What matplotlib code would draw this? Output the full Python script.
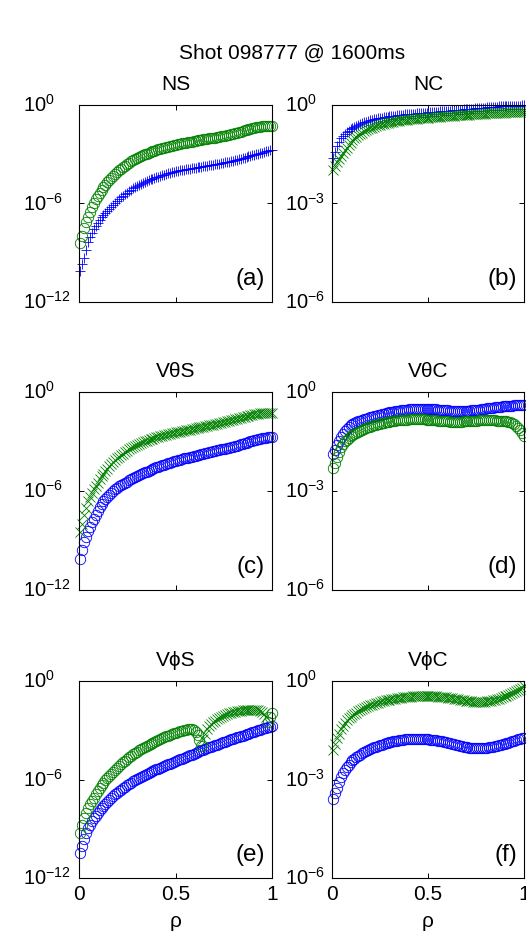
import numpy as np
import matplotlib
matplotlib.use("Agg")
import matplotlib.pyplot as plt
from matplotlib.transforms import ScaledTranslation, blended_transform_factory

plt.rcParams['font.family'] = ['Liberation Sans', 'DejaVu Sans']
plt.rcParams['mathtext.fontset'] = 'custom'
plt.rcParams['mathtext.rm'] = 'Liberation Sans'
plt.rcParams['mathtext.it'] = 'Liberation Sans:italic'
plt.rcParams['mathtext.bf'] = 'Liberation Sans:bold'
plt.rcParams['mathtext.default'] = 'regular'

# ---------------- data ----------------
suptitle = "Shot 098777 @ 1600ms"
titles = ["NS", "NC", "V\u03b8S", "V\u03b8C", "V\u03d5S", "V\u03d5C"]
panel_labels = ["(a)", "(b)", "(c)", "(d)", "(e)", "(f)"]
rho_first, rho_last = 0.005, 1.0
xticks = [0, 0.5, 1]
xticklabels = ["0", "0.5", "1"]
yticks_left = [-12, -6, 0]
yticks_right = [-6, -3, 0]
xlabel = "\u03c1"

# log10 of the plotted values, on a uniform rho grid
ns_blue = [-10.1, -9.7, -9.3, -8.82, -8.35, -8.07, -7.8, -7.57, -7.35, -7.17,
           -7.0, -6.85, -6.7, -6.57, -6.45, -6.32, -6.2, -6.07, -5.95, -5.83,
           -5.72, -5.62, -5.52, -5.42, -5.33, -5.24, -5.16, -5.08, -5.0, -4.93,
           -4.86, -4.8, -4.74, -4.68, -4.63, -4.58, -4.53, -4.48, -4.44, -4.4,
           -4.36, -4.32, -4.28, -4.24, -4.21, -4.17, -4.14, -4.1, -4.07, -4.04,
           -4.01, -3.98, -3.96, -3.93, -3.91, -3.89, -3.87, -3.85, -3.83, -3.81,
           -3.79, -3.77, -3.75, -3.73, -3.71, -3.69, -3.67, -3.65, -3.63, -3.61,
           -3.59, -3.57, -3.55, -3.52, -3.5, -3.47, -3.45, -3.42, -3.39, -3.36,
           -3.33, -3.3, -3.27, -3.23, -3.2, -3.16, -3.13, -3.1, -3.06, -3.03,
           -3.0, -2.97, -2.94, -2.9, -2.86, -2.83, -2.8, -2.77, -2.74]
ns_green = [-8.4, -7.95, -7.5, -7.15, -6.8, -6.5, -6.2, -5.97, -5.75, -5.55,
            -5.35, -5.17, -5.0, -4.86, -4.72, -4.58, -4.45, -4.32, -4.2, -4.09,
            -3.98, -3.88, -3.78, -3.69, -3.6, -3.52, -3.44, -3.37, -3.3, -3.23,
            -3.17, -3.11, -3.06, -3.01, -2.96, -2.91, -2.87, -2.82, -2.78, -2.74,
            -2.7, -2.66, -2.63, -2.59, -2.56, -2.53, -2.5, -2.47, -2.44, -2.41,
            -2.39, -2.36, -2.34, -2.31, -2.29, -2.27, -2.25, -2.23, -2.21, -2.18,
            -2.16, -2.14, -2.12, -2.1, -2.08, -2.06, -2.04, -2.02, -2.0, -1.98,
            -1.96, -1.93, -1.91, -1.88, -1.86, -1.83, -1.8, -1.77, -1.74, -1.71,
            -1.68, -1.65, -1.62, -1.58, -1.55, -1.52, -1.49, -1.46, -1.43, -1.4,
            -1.37, -1.34, -1.32, -1.3, -1.29, -1.28, -1.27, -1.26, -1.26]
nc_blue = [-1.6, -1.42, -1.25, -1.12, -1.0, -0.93, -0.87, -0.82, -0.78, -0.74,
           -0.7, -0.66, -0.63, -0.6, -0.58, -0.55, -0.53, -0.51, -0.49, -0.47,
           -0.46, -0.44, -0.43, -0.41, -0.4, -0.39, -0.38, -0.37, -0.36, -0.35,
           -0.34, -0.33, -0.32, -0.31, -0.3, -0.295, -0.29, -0.285, -0.28, -0.275,
           -0.27, -0.265, -0.26, -0.255, -0.25, -0.245, -0.24, -0.235, -0.23, -0.225,
           -0.22, -0.215, -0.21, -0.205, -0.2, -0.195, -0.19, -0.185, -0.18, -0.175,
           -0.17, -0.165, -0.16, -0.155, -0.15, -0.145, -0.14, -0.135, -0.13, -0.125,
           -0.12, -0.115, -0.11, -0.105, -0.1, -0.095, -0.09, -0.085, -0.08, -0.075,
           -0.07, -0.065, -0.06, -0.055, -0.05, -0.045, -0.04, -0.04, -0.04, -0.035,
           -0.03, -0.03, -0.03, -0.025, -0.02, -0.02, -0.02, -0.015, -0.01]
nc_green = [-1.98, -1.86, -1.75, -1.65, -1.55, -1.46, -1.38, -1.3, -1.22, -1.15,
            -1.08, -1.02, -0.97, -0.92, -0.88, -0.84, -0.8, -0.77, -0.74, -0.71,
            -0.69, -0.66, -0.64, -0.62, -0.6, -0.58, -0.57, -0.55, -0.54, -0.53,
            -0.52, -0.51, -0.5, -0.49, -0.48, -0.47, -0.46, -0.455, -0.45, -0.44,
            -0.43, -0.425, -0.42, -0.415, -0.41, -0.405, -0.4, -0.395, -0.39, -0.385,
            -0.38, -0.375, -0.37, -0.365, -0.36, -0.355, -0.35, -0.345, -0.34, -0.335,
            -0.33, -0.325, -0.32, -0.315, -0.31, -0.305, -0.3, -0.3, -0.3, -0.295,
            -0.29, -0.285, -0.28, -0.275, -0.27, -0.27, -0.27, -0.265, -0.26, -0.255,
            -0.25, -0.25, -0.25, -0.245, -0.24, -0.235, -0.23, -0.23, -0.23, -0.225,
            -0.22, -0.22, -0.22, -0.215, -0.21, -0.21, -0.21, -0.205, -0.2]
vts_blue = [-10.1, -9.6, -9.1, -8.77, -8.45, -8.17, -7.9, -7.67, -7.45, -7.2,
            -6.95, -6.77, -6.6, -6.47, -6.35, -6.23, -6.12, -6.01, -5.9, -5.81,
            -5.72, -5.64, -5.57, -5.5, -5.43, -5.36, -5.3, -5.23, -5.17, -5.11,
            -5.05, -4.99, -4.93, -4.87, -4.82, -4.77, -4.72, -4.67, -4.62, -4.57,
            -4.53, -4.49, -4.45, -4.41, -4.37, -4.33, -4.29, -4.25, -4.21, -4.17,
            -4.14, -4.1, -4.07, -4.03, -4.0, -3.97, -3.94, -3.91, -3.88, -3.85,
            -3.82, -3.79, -3.76, -3.73, -3.71, -3.68, -3.65, -3.62, -3.6, -3.57,
            -3.54, -3.51, -3.48, -3.45, -3.43, -3.4, -3.37, -3.34, -3.31, -3.28,
            -3.25, -3.21, -3.18, -3.14, -3.11, -3.07, -3.04, -3.0, -2.97, -2.93,
            -2.9, -2.87, -2.84, -2.81, -2.79, -2.76, -2.74, -2.72, -2.7]
vts_green = [-8.5, -7.97, -7.45, -7.02, -6.6, -6.35, -6.1, -5.9, -5.7, -5.5,
             -5.3, -5.12, -4.95, -4.8, -4.65, -4.51, -4.38, -4.25, -4.13, -4.02,
             -3.92, -3.82, -3.73, -3.64, -3.56, -3.48, -3.41, -3.34, -3.28, -3.22,
             -3.16, -3.1, -3.05, -3.0, -2.95, -2.9, -2.86, -2.82, -2.78, -2.74,
             -2.71, -2.68, -2.65, -2.62, -2.59, -2.56, -2.53, -2.5, -2.48, -2.45,
             -2.43, -2.4, -2.38, -2.35, -2.33, -2.3, -2.28, -2.25, -2.23, -2.2,
             -2.18, -2.15, -2.13, -2.1, -2.08, -2.05, -2.03, -2.0, -1.98, -1.95,
             -1.92, -1.89, -1.86, -1.83, -1.8, -1.77, -1.74, -1.71, -1.68, -1.65,
             -1.62, -1.59, -1.56, -1.53, -1.5, -1.47, -1.44, -1.41, -1.38, -1.35,
             -1.33, -1.31, -1.29, -1.28, -1.27, -1.26, -1.25, -1.25, -1.25]
vtc_blue = [-1.87, -1.75, -1.62, -1.48, -1.35, -1.26, -1.18, -1.11, -1.05, -1.01,
            -0.98, -0.95, -0.92, -0.89, -0.87, -0.85, -0.83, -0.81, -0.79, -0.77,
            -0.75, -0.73, -0.72, -0.7, -0.69, -0.67, -0.66, -0.65, -0.64, -0.62,
            -0.61, -0.6, -0.59, -0.58, -0.57, -0.56, -0.56, -0.55, -0.54, -0.53,
            -0.53, -0.52, -0.52, -0.52, -0.52, -0.51, -0.51, -0.51, -0.51, -0.51,
            -0.52, -0.52, -0.53, -0.53, -0.54, -0.54, -0.55, -0.55, -0.56, -0.56,
            -0.57, -0.57, -0.58, -0.58, -0.58, -0.58, -0.58, -0.58, -0.58, -0.57,
            -0.57, -0.56, -0.56, -0.55, -0.55, -0.54, -0.53, -0.52, -0.51, -0.5,
            -0.49, -0.48, -0.47, -0.46, -0.45, -0.44, -0.44, -0.43, -0.43, -0.42,
            -0.42, -0.41, -0.41, -0.4, -0.4, -0.4, -0.4, -0.39, -0.39]
vtc_green = [-2.3, -2.14, -1.98, -1.83, -1.68, -1.59, -1.5, -1.44, -1.38, -1.34,
             -1.3, -1.26, -1.23, -1.2, -1.17, -1.14, -1.12, -1.09, -1.07, -1.05,
             -1.03, -1.01, -1.0, -0.98, -0.97, -0.95, -0.94, -0.92, -0.91, -0.9,
             -0.89, -0.88, -0.87, -0.86, -0.86, -0.85, -0.85, -0.84, -0.84, -0.83,
             -0.83, -0.82, -0.82, -0.82, -0.82, -0.82, -0.83, -0.83, -0.84, -0.84,
             -0.85, -0.85, -0.86, -0.86, -0.87, -0.87, -0.88, -0.88, -0.89, -0.89,
             -0.9, -0.9, -0.9, -0.9, -0.9, -0.9, -0.9, -0.89, -0.89, -0.88,
             -0.88, -0.87, -0.87, -0.87, -0.87, -0.86, -0.86, -0.86, -0.86, -0.86,
             -0.86, -0.86, -0.86, -0.86, -0.87, -0.87, -0.87, -0.87, -0.88, -0.89,
             -0.9, -0.91, -0.93, -0.97, -1.02, -1.08, -1.15, -1.23, -1.32]
vps_blue = [-10.5, -10.05, -9.6, -9.27, -8.95, -8.75, -8.55, -8.37, -8.2, -8.04,
            -7.88, -7.74, -7.6, -7.47, -7.35, -7.23, -7.12, -7.01, -6.9, -6.8,
            -6.7, -6.61, -6.52, -6.43, -6.35, -6.27, -6.2, -6.12, -6.05, -5.98,
            -5.92, -5.85, -5.79, -5.73, -5.67, -5.61, -5.55, -5.49, -5.44, -5.38,
            -5.33, -5.28, -5.23, -5.18, -5.13, -5.08, -5.03, -4.98, -4.93, -4.88,
            -4.83, -4.78, -4.73, -4.68, -4.63, -4.58, -4.53, -4.48, -4.43, -4.38,
            -4.33, -4.28, -4.23, -4.18, -4.14, -4.09, -4.05, -4.0, -3.96, -3.91,
            -3.87, -3.82, -3.78, -3.73, -3.69, -3.64, -3.6, -3.56, -3.52, -3.48,
            -3.44, -3.4, -3.36, -3.32, -3.28, -3.24, -3.2, -3.16, -3.12, -3.08,
            -3.04, -3.0, -2.96, -2.92, -2.88, -2.84, -2.81, -2.78, -2.75]
vps_green = [-9.25, -8.8, -8.35, -8.05, -7.75, -7.52, -7.3, -7.1, -6.9, -6.7,
             -6.5, -6.35, -6.2, -6.06, -5.92, -5.78, -5.65, -5.52, -5.4, -5.28,
             -5.17, -5.06, -4.95, -4.85, -4.75, -4.65, -4.56, -4.47, -4.39, -4.31,
             -4.23, -4.15, -4.08, -4.01, -3.94, -3.87, -3.81, -3.75, -3.69, -3.63,
             -3.58, -3.53, -3.48, -3.43, -3.38, -3.33, -3.28, -3.23, -3.19, -3.14,
             -3.1, -3.06, -3.02, -2.99, -2.96, -2.94, -2.93, -2.95, -3.0, -3.12,
             -3.3, -3.6, -3.98, -3.55, -3.2, -2.95, -2.75, -2.62, -2.5, -2.41,
             -2.33, -2.26, -2.2, -2.13, -2.07, -2.02, -1.97, -1.93, -1.9, -1.87,
             -1.84, -1.82, -1.8, -1.78, -1.77, -1.76, -1.76, -1.76, -1.76, -1.76,
             -1.77, -1.79, -1.82, -1.9, -2.0, -2.2, -2.5, -2.2, -1.95]
vpc_blue = [-3.58, -3.41, -3.25, -3.08, -2.92, -2.81, -2.7, -2.62, -2.55, -2.48,
            -2.42, -2.37, -2.32, -2.28, -2.24, -2.2, -2.17, -2.14, -2.11, -2.08,
            -2.05, -2.02, -2.0, -1.98, -1.96, -1.94, -1.92, -1.9, -1.88, -1.86,
            -1.85, -1.84, -1.83, -1.82, -1.81, -1.8, -1.79, -1.78, -1.78, -1.77,
            -1.77, -1.77, -1.77, -1.77, -1.77, -1.77, -1.77, -1.77, -1.78, -1.78,
            -1.79, -1.79, -1.8, -1.81, -1.82, -1.83, -1.84, -1.85, -1.87, -1.88,
            -1.9, -1.91, -1.93, -1.94, -1.96, -1.97, -1.99, -2.0, -2.01, -2.02,
            -2.03, -2.03, -2.04, -2.04, -2.05, -2.05, -2.05, -2.04, -2.04, -2.03,
            -2.02, -2.01, -2.0, -1.99, -1.98, -1.96, -1.95, -1.93, -1.92, -1.9,
            -1.88, -1.86, -1.84, -1.82, -1.8, -1.78, -1.77, -1.75, -1.74]
vpc_green = [-2.1, -1.92, -1.75, -1.6, -1.45, -1.36, -1.27, -1.2, -1.14, -1.09,
             -1.04, -1.0, -0.96, -0.92, -0.89, -0.86, -0.83, -0.8, -0.77, -0.74,
             -0.72, -0.7, -0.68, -0.66, -0.64, -0.62, -0.61, -0.59, -0.58, -0.57,
             -0.56, -0.55, -0.54, -0.53, -0.52, -0.51, -0.5, -0.5, -0.49, -0.48,
             -0.48, -0.47, -0.47, -0.46, -0.46, -0.46, -0.46, -0.46, -0.46, -0.46,
             -0.46, -0.46, -0.47, -0.47, -0.48, -0.48, -0.49, -0.49, -0.5, -0.51,
             -0.52, -0.53, -0.54, -0.55, -0.56, -0.57, -0.58, -0.59, -0.6, -0.61,
             -0.62, -0.62, -0.63, -0.63, -0.64, -0.64, -0.64, -0.63, -0.63, -0.62,
             -0.61, -0.6, -0.59, -0.57, -0.56, -0.54, -0.52, -0.5, -0.47, -0.45,
             -0.42, -0.39, -0.36, -0.33, -0.3, -0.27, -0.23, -0.2, -0.16]

# marker symbol of each series (the green VphiS series changes symbol)
ns_markers = ('+', 'o')
nc_markers = ('+', 'x')
vts_markers = ('o', 'x')
vtc_markers = ('o', 'o')
vps_markers = ('o', ['o'] * 63 + ['x'] * 33 + ['o'] * 3)
vpc_markers = ('o', 'x')

panels = [
    (ns_blue, ns_green, ns_markers),
    (nc_blue, nc_green, nc_markers),
    (vts_blue, vts_green, vts_markers),
    (vtc_blue, vtc_green, vtc_markers),
    (vps_blue, vps_green, vps_markers),
    (vpc_blue, vpc_green, vpc_markers),
]

BLUE = (0, 0, 1)
GREEN = (0, 0.5, 0)

# ---------------- figure ----------------
W, H = 526, 938
fig = plt.figure(figsize=(W / 100, H / 100), dpi=100)

col_x = [(79, 193), (332, 192)]
row_y = [(105, 302), (392, 590), (681, 878)]
FS = 15


def add_series(ax, vals, marks, color):
    y = 10.0 ** np.array(vals)
    x = np.linspace(rho_first, rho_last, len(y))
    if isinstance(marks, str):
        marks = [marks] * len(y)
    marks = np.array(marks[:len(y)] + [marks[-1]] * (len(y) - len(marks)))
    for m in np.unique(marks):
        sel = marks == m
        kw = dict(linestyle='none', marker=m, markersize=7.5, color=color,
                  markeredgewidth=0.6, clip_on=False)
        if m == 'o':
            kw['markerfacecolor'] = 'none'
        ax.plot(x[sel], y[sel], **kw)


for i, (b, g, (bm, gm)) in enumerate(panels):
    r, c = divmod(i, 2)
    x0, w = col_x[c]
    top, bot = row_y[r]
    ax = fig.add_axes([x0 / W, 1 - bot / H, w / W, (bot - top) / H])
    ax.set_yscale('log')
    yt = yticks_left if c == 0 else yticks_right
    ax.set_ylim(10.0 ** yt[0], 10.0 ** yt[-1])
    ax.set_xlim(0, 1)
    add_series(ax, b, bm, BLUE)
    add_series(ax, g, gm, GREEN)
    ax.set_yticks([10.0 ** v for v in yt])
    ax.yaxis.set_minor_locator(matplotlib.ticker.NullLocator())
    ax.set_yticklabels([])
    ax.set_xticks(xticks)
    ax.tick_params(direction='in', length=3.5, width=0.7, top=True, right=True,
                   labelsize=FS, pad=5)
    if r == 2:
        ax.set_xticklabels(xticklabels)
        ax.set_xlabel(xlabel, fontsize=FS, labelpad=6)
    else:
        ax.set_xticklabels([])
    for sp in ax.spines.values():
        sp.set_linewidth(0.8)
    ax.set_title(titles[i], fontsize=FS, pad=11)
    # MATLAB-like left-aligned exponent tick labels
    dx = -(56 if c == 0 else 47) / 100.0
    tr = blended_transform_factory(ax.transAxes, ax.transData) + \
        ScaledTranslation(dx, -7.2 / 100.0, fig.dpi_scale_trans)
    for v in yt:
        ax.text(0, 10.0 ** v, r'$10^{%d}$' % v, transform=tr, ha='left',
                va='baseline', fontsize=FS - 0.5, clip_on=False)
    ax.text(0.964, 0.085, panel_labels[i], transform=ax.transAxes, ha='right',
            va='baseline', fontsize=17.5)

fig.text(292 / W, 1 - 59 / H, suptitle, ha='center', va='baseline', fontsize=FS)

fig.savefig('out.png', dpi=100)
